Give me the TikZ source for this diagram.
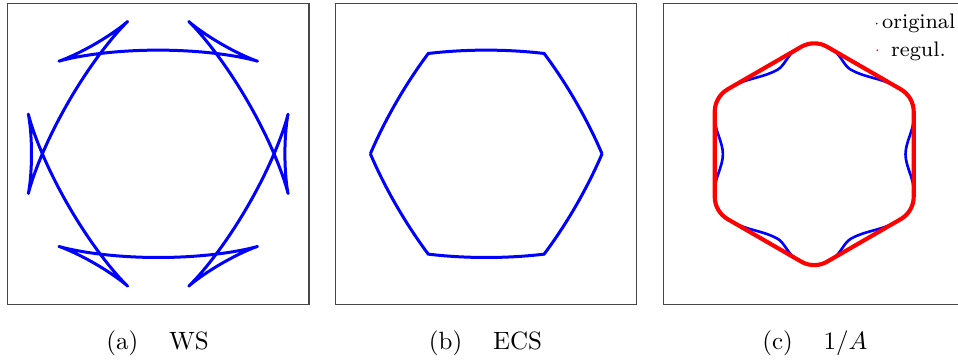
\documentclass[tikz,border=0pt]{standalone}
\usepackage{fontspec}
\begin{document}
\begin{tikzpicture}[x=0.4pt,y=-0.4pt,
  panel/.style={draw=black!72,line width=0.45pt},
  wulff/.style={draw=blue,line width=1.2pt,line join=round},
  origc/.style={draw=blue,line width=1.05pt,line join=round,line cap=round},
  regc/.style={draw=red,line width=1.65pt,line join=round},
  captext/.style={anchor=base,inner sep=0pt,font=\fontsize{10}{12}\selectfont},
  legtext/.style={anchor=base west,inner sep=0pt,font=\fontsize{8.4}{10}\selectfont},
  declare function={wx(\t)=(1+0.1*cos(6*\t))*cos(\t)+0.6*sin(6*\t)*sin(\t);
                    wy(\t)=(1+0.1*cos(6*\t))*sin(\t)-0.6*sin(6*\t)*cos(\t);}]
\clip (0,0) rectangle (958,362);
\fill[white] (0,0) rectangle (958,362);

% ---------- panel (a): WS ----------
\draw[panel] (7.3,3.3) rectangle (309,304.3);
\begin{scope}[shift={(158.2,153.8)}]
  \draw[wulff] plot[domain=0:360,samples=1441,variable=\t]
    ({115.2*wx(\t)},{115.2*wy(\t)}) -- cycle;
\end{scope}

% ---------- panel (b): ECS ----------
\draw[panel] (335.7,3.3) rectangle (636.7,304.3);
\begin{scope}[shift={(486.2,153.8)}]
  \draw[wulff,line join=miter]
    plot[domain=23.135:36.865,samples=40,variable=\t] ({115.2*wx(\t)},{115.2*wy(\t)})
    -- plot[domain=83.135:96.865,samples=40,variable=\t] ({115.2*wx(\t)},{115.2*wy(\t)})
    -- plot[domain=143.135:156.865,samples=40,variable=\t] ({115.2*wx(\t)},{115.2*wy(\t)})
    -- plot[domain=203.135:216.865,samples=40,variable=\t] ({115.2*wx(\t)},{115.2*wy(\t)})
    -- plot[domain=263.135:276.865,samples=40,variable=\t] ({115.2*wx(\t)},{115.2*wy(\t)})
    -- plot[domain=323.135:336.865,samples=40,variable=\t] ({115.2*wx(\t)},{115.2*wy(\t)})
    -- cycle;
\end{scope}

% ---------- panel (c): 1/A ----------
\draw[panel] (663.3,3.3) rectangle (964.3,304.3);
\begin{scope}[shift={(814.2,154.2)}]
  \draw[origc] (-91.3,0)
    .. controls (-91.3,-12) and (-99.5,-24) .. (-99.5,-36)
    -- (-99.5,-42.45) .. controls (-99.5,-51.74) and (-94.56,-60.31) .. (-86.51,-64.95)
    -- (-80.88,-68.2)
    .. controls (-67.46,-75.95) and (-50.03,-76.77) .. (-36.61,-84.52)
    .. controls (-29.51,-88.62) and (-26.32,-99.7) .. (-19.22,-103.8)
    -- (-12.99,-107.4) .. controls (-4.945,-112.05) and (4.945,-112.05) .. (12.99,-107.4)
    -- (19.22,-103.8)
    .. controls (26.32,-99.7) and (29.51,-88.62) .. (36.61,-84.52)
    .. controls (50.03,-76.77) and (67.46,-75.95) .. (80.88,-68.2)
    -- (86.51,-64.95) .. controls (94.56,-60.31) and (99.5,-51.74) .. (99.5,-42.45)
    -- (99.5,-36)
    .. controls (99.5,-24) and (91.3,-12) .. (91.3,0)
    .. controls (91.3,12) and (99.5,24) .. (99.5,36)
    -- (99.5,42.45) .. controls (99.5,51.74) and (94.56,60.31) .. (86.51,64.95)
    -- (80.88,68.2)
    .. controls (67.46,75.95) and (50.03,76.77) .. (36.61,84.52)
    .. controls (29.51,88.62) and (26.32,99.7) .. (19.22,103.8)
    -- (12.99,107.4) .. controls (4.945,112.05) and (-4.945,112.05) .. (-12.99,107.4)
    -- (-19.22,103.8)
    .. controls (-26.32,99.7) and (-29.51,88.62) .. (-36.61,84.52)
    .. controls (-50.03,76.77) and (-67.46,75.95) .. (-80.88,68.2)
    -- (-86.51,64.95) .. controls (-94.56,60.31) and (-99.5,51.74) .. (-99.5,42.45)
    -- (-99.5,36)
    .. controls (-99.5,24) and (-91.3,12) .. (-91.3,0);
  \draw[regc] (-99.5,0)
    -- (-99.5,-42.45) .. controls (-99.5,-51.74) and (-94.56,-60.31) .. (-86.51,-64.95)
    -- (-12.99,-107.4) .. controls (-4.945,-112.05) and (4.945,-112.05) .. (12.99,-107.4)
    -- (86.51,-64.95) .. controls (94.56,-60.31) and (99.5,-51.74) .. (99.5,-42.45)
    -- (99.5,42.45) .. controls (99.5,51.74) and (94.56,60.31) .. (86.51,64.95)
    -- (12.99,107.4) .. controls (4.945,112.05) and (-4.945,112.05) .. (-12.99,107.4)
    -- (-86.51,64.95) .. controls (-94.56,60.31) and (-99.5,51.74) .. (-99.5,42.45)
    -- cycle;
\end{scope}

% legend
\fill[blue] (876.7,23.6) circle (0.9);
\fill[red] (877.3,50.2) circle (0.9);
\node[legtext] (legO) at (881.7,28.7) {original};
\node[legtext] (legR) at (890.7,56) {regul.};

% captions
\node[captext] (capA) at (157.5,349) {(a)\hspace{12.3pt}WS};
\node[captext] (capB) at (485.5,349) {(b)\hspace{12.3pt}ECS};
\node[captext] (capC) at (814.9,349) {(c)\hspace{12.3pt}$1/A$};
\end{tikzpicture}
\end{document}
